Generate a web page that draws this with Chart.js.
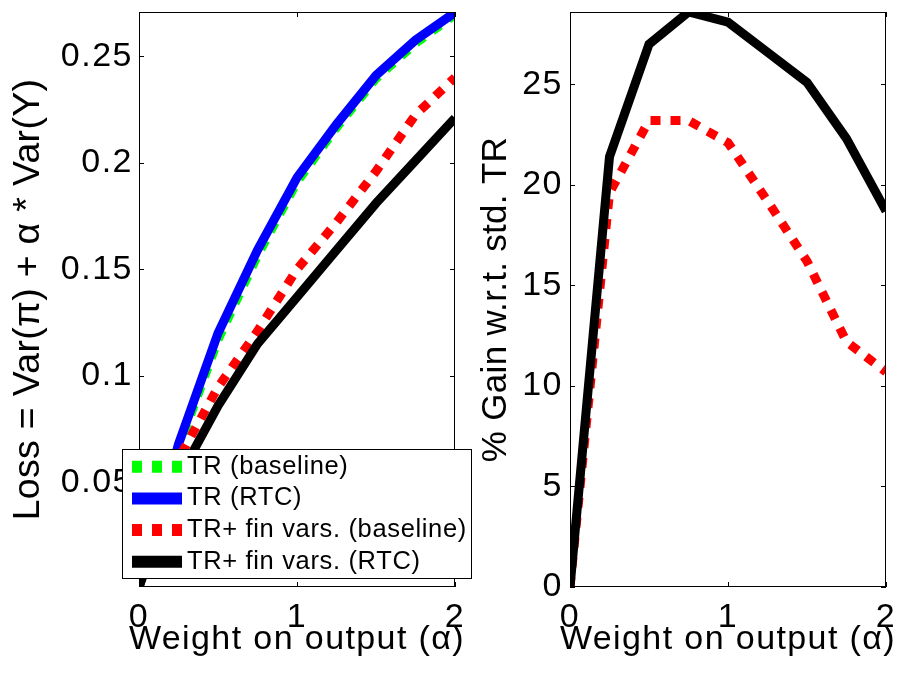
<!DOCTYPE html>
<html>
<head>
<meta charset="utf-8">
<script src="https://cdn.jsdelivr.net/npm/chart.js@4.4.0/dist/chart.umd.min.js"></script>
<style>
  body { margin: 0; background: #fff; }
  #wrap { position: relative; width: 902px; height: 673px; overflow: hidden; }
  canvas { position: absolute; top: 0; }
  #lossChart { left: 0; }
  #gainChart { left: 475px; }
</style>
</head>
<body>
<div id="wrap">
  <canvas id="lossChart" width="480" height="673"></canvas>
  <canvas id="gainChart" width="427" height="673"></canvas>
</div>
<script>
// Weight on output (alpha) grid shared by both panels
const alphas = [0, 0.25, 0.5, 0.75, 1, 1.25, 1.5, 1.75, 2];
const xTicks = [0, 1, 2];

// Left panel: Loss = Var(pi) + alpha * Var(Y)
const lossTrBaseline = [0.001, 0.066, 0.117, 0.1565, 0.191, 0.2165, 0.2395, 0.256, 0.2695];
const lossTrRtc      = [0.001, 0.068, 0.120, 0.159, 0.193, 0.218, 0.241, 0.2575, 0.2705];
const lossFinBaseline = [0.001, 0.061, 0.0947, 0.121, 0.150, 0.172, 0.196, 0.2225, 0.240];
const lossFinRtc      = [0.001, 0.052, 0.086, 0.115, 0.137, 0.159, 0.181, 0.201, 0.221];
const lossTicks = [0.05, 0.1, 0.15, 0.2, 0.25];

// Right panel: % gain w.r.t. standard TR
const gainFinBaseline = [0, 19.6, 23.2, 23.2, 22.1, 19.2, 16.2, 12.2, 10.7];
const gainFinRtc      = [0, 21.4, 27.0, 28.6, 28.1, 26.6, 25.1, 22.3, 18.7];
const gainTicks = [0, 5, 10, 15, 20, 25];

const FONT = '"Liberation Sans", Arial, Helvetica, sans-serif';
const LINE_W = 9;

function pts(ys) {
    return ys.map((y, i) => ({ x: alphas[i], y: y }));
}

// MATLAB style box with inward tick marks on all four sides
const matlabBox = {
    id: 'matlabBox',
    afterDatasetsDraw(chart) {
        const { ctx, chartArea: a, scales } = chart;
        ctx.save();
        ctx.strokeStyle = '#000';
        ctx.lineWidth = 1;
        ctx.setLineDash([]);
        ctx.strokeRect(a.left + 0.5, a.top + 0.5, a.right - a.left - 1, a.bottom - a.top - 1);
        const len = 5;
        ctx.beginPath();
        scales.x.ticks.forEach(t => {
            const px = Math.round(scales.x.getPixelForValue(t.value)) + 0.5;
            ctx.moveTo(px, a.bottom); ctx.lineTo(px, a.bottom - len);
            ctx.moveTo(px, a.top); ctx.lineTo(px, a.top + len);
        });
        scales.y.ticks.forEach(t => {
            const py = Math.round(scales.y.getPixelForValue(t.value)) + 0.5;
            ctx.moveTo(a.left, py); ctx.lineTo(a.left + len, py);
            ctx.moveTo(a.right, py); ctx.lineTo(a.right - len, py);
        });
        ctx.stroke();
        ctx.restore();
    }
};

// The reference text is set a little wider than Liberation Sans,
// so give tick labels and titles some letter spacing per scale.
// Titles wider than the axis would be squeezed by fillText's maxWidth,
// the reference lets them overhang, so drop that argument here.
const textSpacing = {
    id: 'textSpacing',
    afterLayout(chart, args, opts) {
        Object.values(chart.scales).forEach(scale => {
            if (scale._spaced) return;
            scale._spaced = true;
            const sp = opts[scale.id] || {};
            [['drawLabels', sp.ticks], ['drawTitle', sp.title]].forEach(([fn, spacing]) => {
                const orig = scale[fn];
                scale[fn] = function () {
                    const ctx = this.ctx;
                    const old = ctx.letterSpacing;
                    const fill = ctx.fillText;
                    ctx.letterSpacing = spacing || '0px';
                    ctx.fillText = function (t, x, y) { return fill.call(ctx, t, x, y); };
                    orig.apply(this, arguments);
                    delete ctx.fillText;
                    ctx.letterSpacing = old;
                };
            });
        });
    }
};

// Boxed legend drawn over the lower-left of the loss panel
const boxLegend = {
    id: 'boxLegend',
    afterDraw(chart, args, opts) {
        if (!opts.show) return;
        const ctx = chart.ctx;
        ctx.save();
        ctx.fillStyle = '#fff';
        ctx.fillRect(opts.left, opts.top, opts.width, opts.height);
        ctx.strokeStyle = '#000';
        ctx.lineWidth = 1;
        ctx.setLineDash([]);
        ctx.strokeRect(opts.left + 0.5, opts.top + 0.5, opts.width, opts.height);
        ctx.font = opts.fontSize + 'px ' + FONT;
        ctx.letterSpacing = opts.spacing;
        ctx.textBaseline = 'middle';
        ctx.textAlign = 'left';
        chart.data.datasets.forEach((ds, i) => {
            const y = opts.top + opts.firstRow + i * opts.rowStep;
            ctx.beginPath();
            ctx.setLineDash(ds.borderDash || []);
            ctx.lineDashOffset = 0;
            ctx.lineCap = 'butt';
            ctx.lineWidth = opts.sampleWidth;
            ctx.strokeStyle = ds.borderColor;
            ctx.moveTo(opts.left + opts.sampleStart, y);
            ctx.lineTo(opts.left + opts.sampleStart + opts.sampleLength, y);
            ctx.stroke();
            ctx.setLineDash([]);
            ctx.fillStyle = '#000';
            ctx.fillText(ds.label, opts.left + opts.textStart, y);
        });
        ctx.restore();
    }
};

function lineSet(label, ys, color, dash, order) {
    return {
        label: label,
        data: pts(ys),
        borderColor: color,
        backgroundColor: color,
        borderWidth: LINE_W,
        borderDash: dash,
        borderCapStyle: 'butt',
        borderJoinStyle: 'miter',
        pointRadius: 0,
        tension: 0,
        fill: false,
        clip: 0,
        order: order
    };
}

function buildScales(cfg) {
    return {
        x: {
            type: 'linear',
            min: 0,
            max: 2,
            afterBuildTicks: s => { s.ticks = xTicks.map(v => ({ value: v })); },
            afterFit: s => {
                s.height = cfg.xHeight;
                s.paddingLeft = 0;
                s.paddingRight = 0;
            },
            grid: { display: false, drawTicks: false },
            border: { display: false },
            ticks: {
                font: { family: FONT, size: 34 },
                color: '#000',
                padding: 10,
                maxRotation: 0,
                autoSkip: false,
                callback: v => String(v)
            },
            title: {
                display: true,
                text: 'Weight on output (\u03b1)',
                font: { family: FONT, size: 34 },
                color: '#000',
                padding: { top: 0, bottom: 12.5 }
            }
        },
        y: {
            type: 'linear',
            min: cfg.yMin,
            max: cfg.yMax,
            afterBuildTicks: s => { s.ticks = cfg.yTicks.map(v => ({ value: v })); },
            afterFit: s => {
                s.width = cfg.yWidth;
                s.paddingTop = 0;
                s.paddingBottom = 0;
            },
            grid: { display: false, drawTicks: false },
            border: { display: false },
            ticks: {
                font: { family: FONT, size: 34 },
                color: '#000',
                padding: cfg.tickPad,
                autoSkip: false,
                callback: v => String(+v.toFixed(4))
            },
            title: {
                display: true,
                text: cfg.yTitle,
                font: { family: FONT, size: cfg.yTitleSize },
                color: '#000',
                padding: { top: cfg.titlePad, bottom: 0 }
            }
        }
    };
}

Chart.defaults.font.family = FONT;

new Chart(document.getElementById('lossChart'), {
    type: 'line',
    data: {
        datasets: [
            lineSet('TR (baseline)', lossTrBaseline, '#00ff00', [10, 10], 4),
            lineSet('TR (RTC)', lossTrRtc, '#0000ff', [], 3),
            lineSet('TR+ fin vars. (baseline)', lossFinBaseline, '#ff0000', [10, 10], 2),
            lineSet('TR+ fin vars. (RTC)', lossFinRtc, '#000000', [], 1)
        ]
    },
    options: {
        responsive: false,
        animation: false,
        devicePixelRatio: 1,
        events: [],
        layout: { padding: { left: 0, top: 12, right: 25, bottom: 0 } },
        scales: buildScales({
            yMin: 0.001, yMax: 0.2707, yTicks: lossTicks, yWidth: 139, xHeight: 86,
            tickPad: 6, yTitle: 'Loss = Var(\u03c0) + \u03b1 * Var(Y)', yTitleSize: 37.5, titlePad: 6
        }),
        plugins: {
            legend: { display: false },
            tooltip: { enabled: false },
            textSpacing: {
                x: { ticks: '1.5px', title: '1.4px' },
                y: { ticks: '1.5px', title: '0.3px' }
            },
            boxLegend: {
                show: true, left: 122, top: 449, width: 349, height: 129,
                firstRow: 17.7, rowStep: 31.7, sampleStart: 10, sampleLength: 50,
                sampleWidth: 12, textStart: 65, fontSize: 25.5, spacing: '0.65px'
            }
        }
    },
    plugins: [matlabBox, textSpacing, boxLegend]
});

new Chart(document.getElementById('gainChart'), {
    type: 'line',
    data: {
        datasets: [
            lineSet('TR+ fin vars. (baseline)', gainFinBaseline, '#ff0000', [10, 10], 2),
            lineSet('TR+ fin vars. (RTC)', gainFinRtc, '#000000', [], 1)
        ]
    },
    options: {
        responsive: false,
        animation: false,
        devicePixelRatio: 1,
        events: [],
        layout: { padding: { left: 0, top: 12, right: 16, bottom: 0 } },
        scales: buildScales({
            yMin: 0, yMax: 28.6, yTicks: gainTicks, yWidth: 95, xHeight: 86,
            tickPad: 7, yTitle: '% Gain w.r.t. std. TR', yTitleSize: 35, titlePad: 0
        }),
        plugins: {
            legend: { display: false },
            tooltip: { enabled: false },
            textSpacing: {
                x: { ticks: '1.5px', title: '1.4px' },
                y: { ticks: '1.5px', title: '0.3px' }
            },
            boxLegend: { show: false }
        }
    },
    plugins: [matlabBox, textSpacing, boxLegend]
});
</script>
</body>
</html>
